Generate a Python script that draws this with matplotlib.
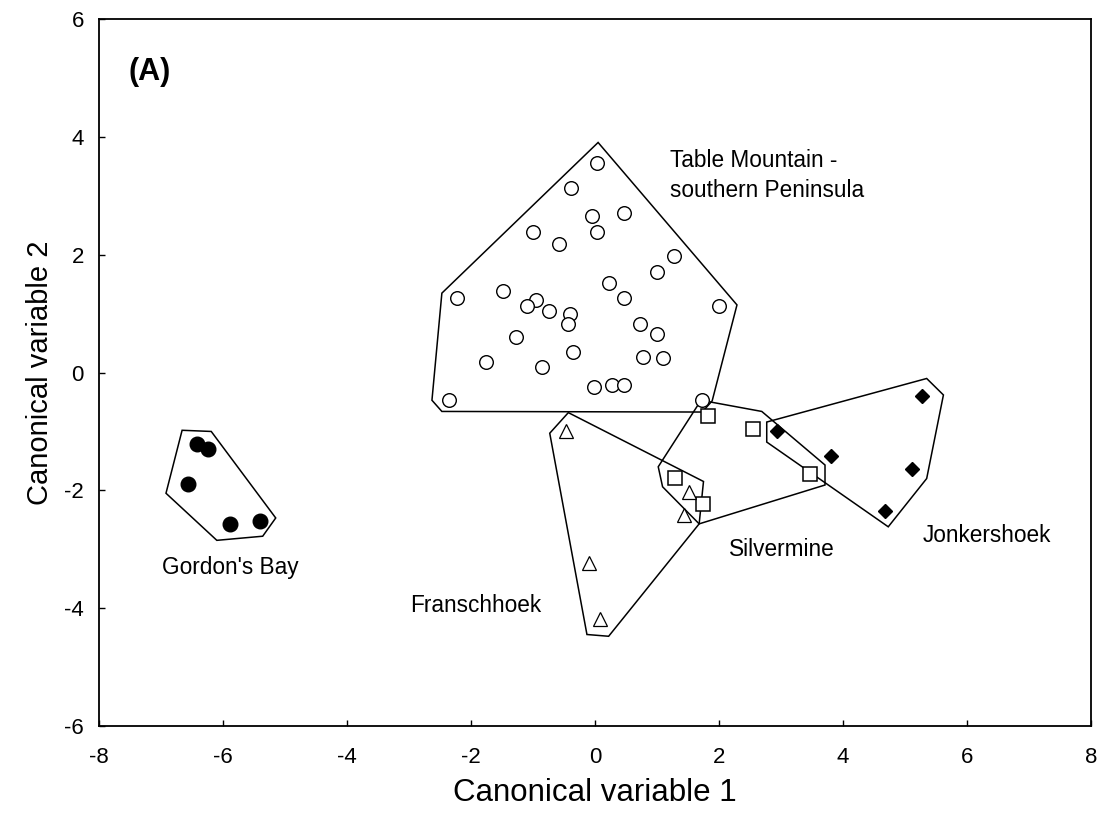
import matplotlib
matplotlib.use("Agg")
import matplotlib.pyplot as plt

plt.rcParams["font.family"] = ["Liberation Sans", "DejaVu Sans"]
plt.rcParams["axes.unicode_minus"] = False

# Table Mountain - southern Peninsula (open circles)
table_x = [0.04, -0.38, -0.05, 0.46, 0.04, -1.00, -0.58, 1.27, 1.00, 0.22, 0.46, 2.00,
           -2.22, -1.48, -0.95, -1.09, -0.74, -0.40, -0.44, 0.72, 1.00, -1.28, -0.35,
           0.78, 1.10, -1.76, -0.86, -0.01, 0.27, 0.47, -2.35, 1.72]
table_y = [3.56, 3.13, 2.66, 2.72, 2.39, 2.39, 2.18, 1.98, 1.71, 1.52, 1.26, 1.13,
           1.26, 1.39, 1.23, 1.13, 1.05, 1.00, 0.82, 0.82, 0.66, 0.61, 0.35,
           0.27, 0.24, 0.18, 0.10, -0.25, -0.21, -0.21, -0.46, -0.46]
table_hull_x = [0.05, 2.29, 1.89, 1.73, -2.47, -2.63, -2.47]
table_hull_y = [3.91, 1.15, -0.48, -0.67, -0.66, -0.47, 1.35]

# Gordon's Bay (filled circles)
gordon_x = [-6.42, -6.24, -6.57, -5.89, -5.40]
gordon_y = [-1.22, -1.30, -1.89, -2.58, -2.52]
gordon_hull_x = [-6.66, -6.19, -5.15, -5.36, -6.10, -6.92]
gordon_hull_y = [-0.98, -1.00, -2.47, -2.78, -2.85, -2.05]

# Silvermine (open squares)
silver_x = [1.82, 2.55, 1.29, 1.75, 3.46]
silver_y = [-0.74, -0.95, -1.79, -2.24, -1.73]
silver_hull_x = [1.71, 2.69, 3.71, 3.71, 1.68, 1.09, 1.02]
silver_hull_y = [-0.47, -0.66, -1.57, -1.91, -2.57, -1.94, -1.60]

# Franschhoek (open triangles)
fransch_x = [-0.46, 1.51, 1.44, -0.10, 0.08]
fransch_y = [-1.00, -2.03, -2.42, -3.24, -4.19]
fransch_hull_x = [-0.43, 1.75, 1.68, 0.22, -0.13, -0.73]
fransch_hull_y = [-0.68, -1.85, -2.57, -4.48, -4.45, -1.03]

# Jonkershoek (filled diamonds)
jonker_x = [2.93, 3.81, 5.28, 5.12, 4.67]
jonker_y = [-0.99, -1.41, -0.39, -1.64, -2.35]
jonker_hull_x = [2.77, 5.35, 5.62, 5.35, 4.73, 2.77]
jonker_hull_y = [-0.84, -0.10, -0.38, -1.80, -2.62, -1.18]

labels = ["Table Mountain -\nsouthern Peninsula", "Gordon's Bay", "Silvermine",
          "Franschhoek", "Jonkershoek"]


def draw_hull(ax, hx, hy):
    ax.fill(hx, hy, facecolor="none", edgecolor="black", linewidth=1.1, zorder=2)


fig = plt.figure(figsize=(11.04, 8.18), dpi=100)
ax = fig.add_axes([0.0897, 0.1128, 0.8985, 0.8634])

for hx, hy in [(table_hull_x, table_hull_y), (gordon_hull_x, gordon_hull_y),
               (silver_hull_x, silver_hull_y), (fransch_hull_x, fransch_hull_y),
               (jonker_hull_x, jonker_hull_y)]:
    draw_hull(ax, hx, hy)

ax.plot(table_x, table_y, "o", ms=9.8, mfc="white", mec="black", mew=1.0, zorder=3)
ax.plot(gordon_x, gordon_y, "o", ms=10.5, mfc="black", mec="black", zorder=3)
ax.plot(silver_x, silver_y, "s", ms=9.5, mfc="white", mec="black", mew=1.1, zorder=3)
ax.plot(fransch_x, fransch_y, "^", ms=10, mfc="white", mec="black", mew=0.9, zorder=3)
ax.plot(jonker_x, jonker_y, "D", ms=7.5, mfc="black", mec="black", zorder=3)

ax.text(1.21, 3.35, labels[0], fontsize=16.3, ha="left", va="center", linespacing=1.4)
ax.text(-5.89, -3.32, labels[1], fontsize=16.3, ha="center", va="center")
ax.text(3.01, -3.00, labels[2], fontsize=16.3, ha="center", va="center")
ax.text(-1.92, -3.95, labels[3], fontsize=16.3, ha="center", va="center")
ax.text(6.32, -2.76, labels[4], fontsize=16.3, ha="center", va="center")
ax.text(-7.53, 5.1, "(A)", fontsize=22, fontweight="bold", ha="left", va="center")

ax.set_xlim(-8, 8)
ax.set_ylim(-6, 6)
ax.set_xticks(range(-8, 9, 2))
ax.set_yticks(range(-6, 7, 2))
ax.tick_params(direction="in", length=4, width=1, labelsize=16)
ax.tick_params(axis="x", pad=15.5)
ax.tick_params(axis="y", pad=11)
for sp in ax.spines.values():
    sp.set_linewidth(1.3)

ax.set_xlabel("Canonical variable 1", fontsize=22.5, labelpad=7)
ax.set_ylabel("Canonical variable 2", fontsize=21, labelpad=7)

fig.savefig("out.png", dpi=100)
